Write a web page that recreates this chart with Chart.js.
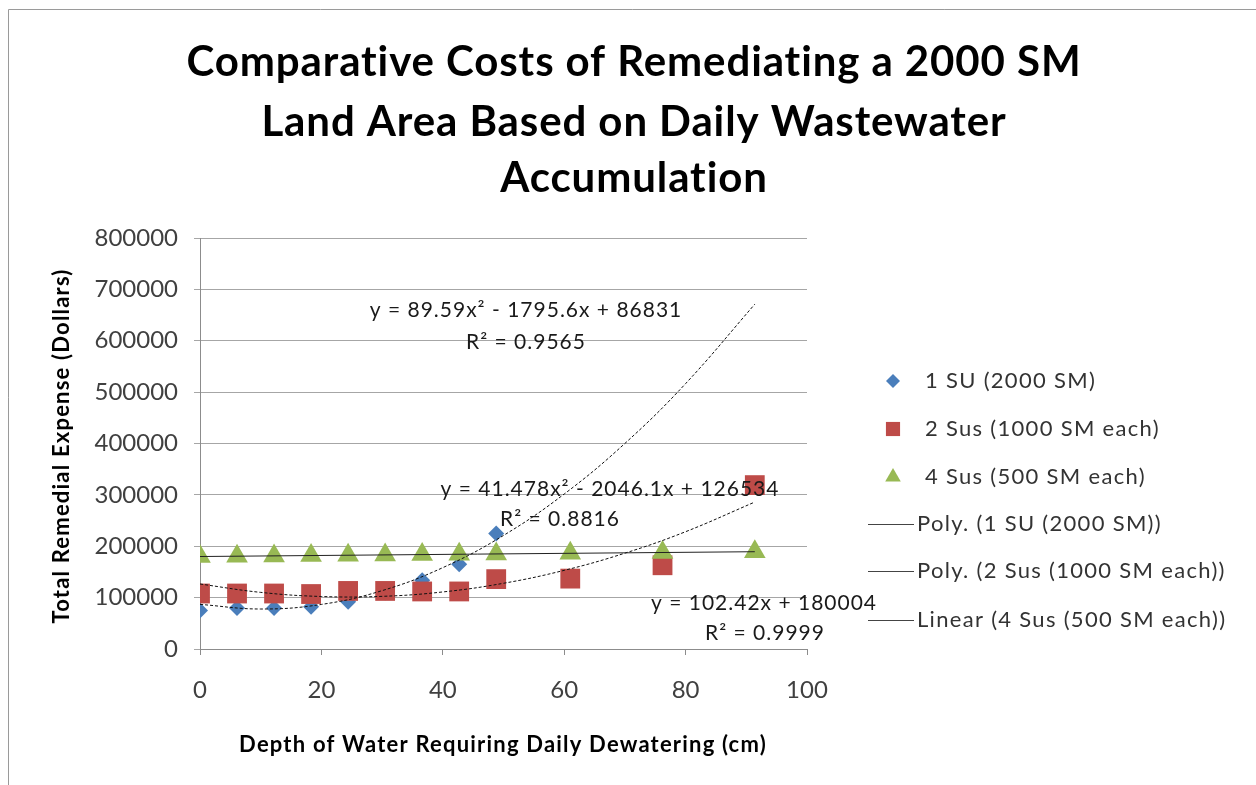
<!DOCTYPE html>
<html>
<head>
<meta charset="utf-8">
<title>Comparative Costs of Remediating a 2000 SM Land Area</title>
<script src="https://cdn.jsdelivr.net/npm/chart.js@4.4.1/dist/chart.umd.min.js"></script>
<style>
  html, body { margin: 0; padding: 0; background: #fff; }
  #wrap { width: 1256px; height: 785px; }
</style>
</head>
<body>
<div id="wrap"><canvas id="chart" width="1256" height="785"></canvas></div>
<script>
// depth in cm (0.2 ft steps), cost in dollars
const depth1 = [0, 6.1, 12.2, 18.3, 24.4, 30.5, 36.6, 42.7, 48.8];
const cost1 = [75000, 80000, 80000, 82000, 92000, 110000, 134000, 165000, 225000];

const depth2 = [0, 6.1, 12.2, 18.3, 24.4, 30.5, 36.6, 42.7, 48.8, 61, 76.2, 91.4];
const cost2 = [108000, 108000, 108000, 107000, 113000, 113000, 112000, 112000, 136000, 137000, 163000, 319000];

const depth3 = [0, 6.1, 12.2, 18.3, 24.4, 30.5, 36.6, 42.7, 48.8, 61, 76.2, 91.4];
const cost3 = [180000, 180600, 181200, 181900, 182500, 183100, 183700, 184400, 185000, 186200, 187800, 189400];

// trendlines as drawn
const trendX = [0, 10, 20, 30, 40, 50, 60, 70, 80, 91.4];
const trendPoly1 = [86831, 77834, 86755, 113594, 158351, 221026, 301619, 400130, 516559, 671134];
const trendPoly2 = [126534, 110221, 102203, 102481, 111055, 127924, 153089, 186549, 228305, 286025];
const trendLinX = [0, 91.4];
const trendLin = [180004, 189365];

const seriesNames = ['1 SU (2000 SM)', '2 Sus (1000 SM each)', '4 Sus (500 SM each)'];
const trendNames = ['Poly. (1 SU (2000 SM))', 'Poly. (2 Sus (1000 SM each))', 'Linear (4 Sus (500 SM each))'];
const equations = [
  ['y = 89.59x\u00b2 - 1795.6x + 86831', 'R\u00b2 = 0.9565'],
  ['y = 41.478x\u00b2 - 2046.1x + 126534', 'R\u00b2 = 0.8816'],
  ['y = 102.42x + 180004', 'R\u00b2 = 0.9999']
];

const xTitle = 'Depth of Water Requiring Daily Dewatering (cm)';
const yTitle = 'Total Remedial Expense (Dollars)';
const titleLines = ['Comparative Costs of Remediating a 2000 SM', 'Land Area Based on Daily Wastewater', 'Accumulation'];

const BLUE = '#4a7ebb';
const RED = '#be4b48';
const GREEN = '#98b954';
const FONT = 'Lato, "Open Sans", sans-serif';

const pts = (xs, ys) => xs.map((x, i) => ({ x: x, y: ys[i] }));

const extras = {
  id: 'extras',
  beforeDraw(chart) {
    const ctx = chart.ctx;
    ctx.save();
    ctx.fillStyle = '#fff';
    ctx.fillRect(0, 0, chart.width, chart.height);
    ctx.strokeStyle = '#9a9a9a';
    ctx.lineWidth = 1;
    ctx.beginPath();
    ctx.moveTo(8.5, 785);
    ctx.lineTo(8.5, 9.5);
    ctx.lineTo(1256, 9.5);
    ctx.stroke();
    ctx.restore();
  },
  afterDraw(chart) {
    const ctx = chart.ctx;
    ctx.save();
    ctx.textAlign = 'center';
    ctx.textBaseline = 'middle';

    // title
    ctx.fillStyle = '#000';
    ctx.font = 'bold 42px ' + FONT;
    ctx.letterSpacing = '0.9px';
    const titleY = [62, 122, 178];
    titleLines.forEach((t, i) => ctx.fillText(t, 634, titleY[i]));

    // axis titles
    ctx.font = 'bold 22px ' + FONT;
    ctx.letterSpacing = '1.2px';
    ctx.fillText(xTitle, 503, 745);
    ctx.save();
    ctx.translate(62, 446);
    ctx.rotate(-Math.PI / 2);
    ctx.fillText(yTitle, 0, 0);
    ctx.restore();

    // trendline equations
    ctx.font = '21px ' + FONT;
    ctx.letterSpacing = '1px';
    ctx.fillStyle = '#1a1a1a';
    const eqPos = [[526, 310, 526, 342], [610, 489, 560, 519], [764, 603, 765, 633]];
    equations.forEach((e, i) => {
      const p = eqPos[i];
      ctx.fillText(e[0], p[0], p[1]);
      ctx.fillText(e[1], p[2], p[3]);
    });

    // legend
    ctx.textAlign = 'left';
    ctx.font = '22px ' + FONT;
    ctx.letterSpacing = '1.3px';
    const styles = [['rectRot', 7, BLUE], ['rect', 10, RED], ['triangle', 9, GREEN]];
    const legY = [381, 429, 477, 524, 571, 620];
    styles.forEach((s, i) => {
      ctx.fillStyle = s[2];
      ctx.strokeStyle = s[2];
      Chart.helpers.drawPoint(ctx, { pointStyle: s[0], radius: s[1], borderWidth: 0 }, 893, legY[i]);
      ctx.fillStyle = '#333';
      ctx.fillText(seriesNames[i], 925, legY[i]);
    });
    trendNames.forEach((t, i) => {
      const y = legY[i + 3] + 0.5;
      ctx.strokeStyle = '#444';
      ctx.lineWidth = 1;
      ctx.beginPath();
      ctx.moveTo(868, y);
      ctx.lineTo(914, y);
      ctx.stroke();
      ctx.fillStyle = '#333';
      ctx.fillText(t, 917, legY[i + 3]);
    });
    ctx.letterSpacing = '0px';
    ctx.restore();
  }
};

new Chart(document.getElementById('chart'), {
  type: 'scatter',
  data: {
    datasets: [
      { label: trendNames[0], type: 'line', data: pts(trendX, trendPoly1), borderColor: '#111', borderWidth: 1,
        borderDash: [3, 2], pointRadius: 0, tension: 0.4, fill: false, order: 0 },
      { label: trendNames[1], type: 'line', data: pts(trendX, trendPoly2), borderColor: '#111', borderWidth: 1,
        borderDash: [3, 2], pointRadius: 0, tension: 0.4, fill: false, order: 0 },
      { label: trendNames[2], type: 'line', data: pts(trendLinX, trendLin), borderColor: '#222', borderWidth: 1,
        pointRadius: 0, fill: false, order: 0 },
      { label: seriesNames[2], data: pts(depth3, cost3), pointStyle: 'triangle', pointRadius: 12.5,
        backgroundColor: GREEN, borderColor: GREEN, borderWidth: 0, order: 1 },
      { label: seriesNames[1], data: pts(depth2, cost2), pointStyle: 'rect', pointRadius: 14,
        backgroundColor: RED, borderColor: RED, borderWidth: 0, order: 2 },
      { label: seriesNames[0], data: pts(depth1, cost1), pointStyle: 'rectRot', pointRadius: 8,
        backgroundColor: BLUE, borderColor: BLUE, borderWidth: 0, order: 3 }
    ]
  },
  options: {
    responsive: false,
    animation: false,
    layout: { padding: { left: 0, top: 238, right: 449, bottom: 0 } },
    plugins: { legend: { display: false }, tooltip: { enabled: false }, title: { display: false } },
    scales: {
      x: {
        type: 'linear', min: 0, max: 100,
        ticks: { stepSize: 20, color: '#404040', padding: 21, font: { family: FONT, size: 24 } },
        grid: { drawOnChartArea: false, tickLength: 6, color: '#8c8c8c' },
        border: { color: '#8c8c8c', width: 1 },
        afterFit: s => { s.height = 136; }
      },
      y: {
        min: 0, max: 800000,
        ticks: { stepSize: 100000, color: '#404040', padding: 16, font: { family: FONT, size: 24 },
          callback: v => String(v) },
        grid: { color: '#a6a6a6', tickLength: 6 },
        border: { color: '#8c8c8c', width: 1 },
        afterFit: s => { s.width = 200; }
      }
    }
  },
  plugins: [extras]
});
</script>
</body>
</html>
